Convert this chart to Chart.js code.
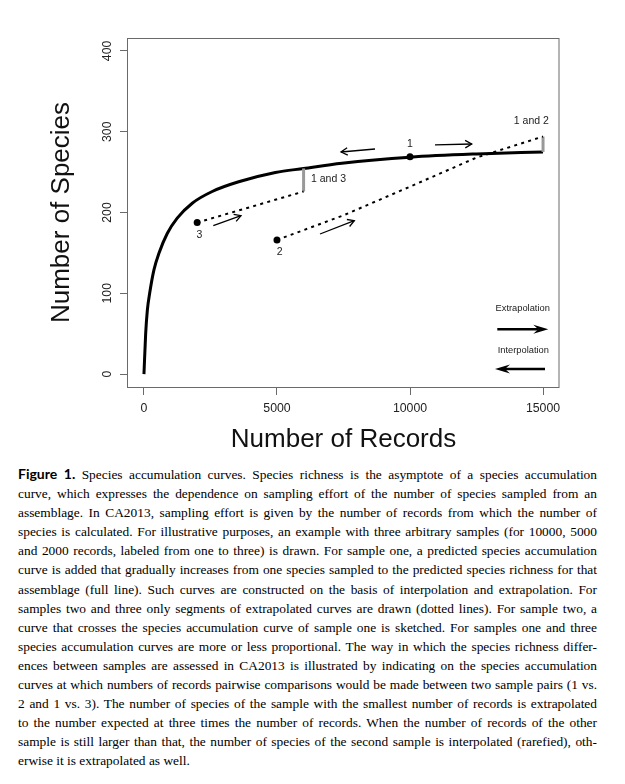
<!DOCTYPE html>
<html><head><meta charset="utf-8">
<script src="https://cdn.jsdelivr.net/npm/chart.js@4"></script>
<style>
html,body{margin:0;padding:0;background:#fff;}
#wrap{position:relative;width:625px;height:784px;overflow:hidden;background:#fff;}
#c{position:absolute;left:0;top:0;}
#cap{position:absolute;left:18px;top:464px;width:579px;font-family:"Liberation Serif",serif;font-size:13.4px;line-height:19.1px;color:#000;}
#cap div{white-space:nowrap;text-align:justify;text-align-last:justify;}
#cap div.last{text-align-last:left;}
#cap b{font-family:Lato,"Open Sans",sans-serif;font-weight:700;font-size:14px;}
</style></head>
<body><div id="wrap"><canvas id="c" width="625" height="460"></canvas>
<div id="cap">
<div><b>Figure 1.</b> Species accumulation curves. Species richness is the asymptote of a species accumulation</div>
<div>curve, which expresses the dependence on sampling effort of the number of species sampled from an</div>
<div>assemblage. In CA2013, sampling effort is given by the number of records from which the number of</div>
<div>species is calculated. For illustrative purposes, an example with three arbitrary samples (for 10000, 5000</div>
<div>and 2000 records, labeled from one to three) is drawn. For sample one, a predicted species accumulation</div>
<div>curve is added that gradually increases from one species sampled to the predicted species richness for that</div>
<div>assemblage (full line). Such curves are constructed on the basis of interpolation and extrapolation. For</div>
<div>samples two and three only segments of extrapolated curves are drawn (dotted lines). For sample two, a</div>
<div>curve that crosses the species accumulation curve of sample one is sketched. For samples one and three</div>
<div>species accumulation curves are more or less proportional. The way in which the species richness differ-</div>
<div>ences between samples are assessed in CA2013 is illustrated by indicating on the species accumulation</div>
<div>curves at which numbers of records pairwise comparisons would be made between two sample pairs (1 vs.</div>
<div>2 and 1 vs. 3). The number of species of the sample with the smallest number of records is extrapolated</div>
<div>to the number expected at three times the number of records. When the number of records of the other</div>
<div>sample is still larger than that, the number of species of the second sample is interpolated (rarefied), oth-</div>
<div class="last">erwise it is extrapolated as well.</div>
</div>
</div>
<script>
// ---- data ----
const xTicks = [0, 5000, 10000, 15000];
const yTicks = [0, 100, 200, 300, 400];
const mainX = [0, 64, 127, 214, 375, 563, 875, 1250, 1815, 2565, 3560, 4939, 6000, 7440, 10000, 12500, 15000];
const mainY = [0, 50, 79, 100, 129, 149.5, 174, 193, 211.5, 226, 238, 249.5, 254.5, 261, 268.5, 272.5, 275];
const sampleX = [10000, 5000, 2000];
const sampleY = [269, 166, 187.5];
const sampleLabels = ['1', '2', '3'];
const ext2X = [5000, 7500, 10000, 12500, 15000];
const ext2Y = [166, 196.5, 232, 268, 294];
const ext3X = [2000, 6000];
const ext3Y = [187.5, 226];
const cmpLabels = ['1 and 3', '1 and 2'];
const cmpX = [6000, 15000];
const cmpLow = [226, 275];
const cmpHigh = [254.5, 294];

const zip = (xs, ys) => xs.map((x, i) => ({x: x, y: ys[i]}));

// annotation config (data coordinates)
const textNotes = [
  {t: sampleLabels[0], x: 10000, y: 285, size: 10.5, align: 'center'},
  {t: sampleLabels[1], x: 5100, y: 151.5, size: 10.5, align: 'center'},
  {t: sampleLabels[2], x: 2080, y: 172, size: 10.5, align: 'center'},
  {t: cmpLabels[0], x: 6278, y: 241.1, size: 10.5, align: 'left'},
  {t: cmpLabels[1], x: 14559, y: 313.3, size: 10.5, align: 'center'},
  {t: 'Extrapolation', x: 14236, y: 81.4, size: 9.3, align: 'center'},
  {t: 'Interpolation', x: 14258, y: 29.8, size: 9.3, align: 'center'}
];
const arrowNotes = [
  {from: [8684, 278.6], to: [7406, 274.9], filled: false},
  {from: [10939, 283.6], to: [12319, 284.8], filled: false},
  {from: [6617, 173.4], to: [7906, 189.9], filled: false},
  {from: [2606, 183.7], to: [3647, 196], filled: false},
  {from: [13281, 55.4], to: [15198, 55.4], filled: true},
  {from: [15074, 6.3], to: [13194, 6.3], filled: true}
];

const TXT = '#222';
const BOX = '#6a6a6a';

const boxPlugin = {
  id: 'boxPlugin',
  beforeDraw(chart) {
    const c = chart.ctx;
    c.save(); c.fillStyle = '#fff'; c.fillRect(0, 0, chart.width, chart.height); c.restore();
  },
  afterDraw(chart) {
    const {ctx, chartArea: a, scales} = chart;
    const sx = scales.x, sy = scales.y;
    ctx.save();
    ctx.strokeStyle = BOX; ctx.lineWidth = 1;
    ctx.strokeRect(a.left - 0.5, a.top + 0.5, a.right - a.left + 0.5, a.bottom - a.top);
    ctx.restore();
    // arrows
    arrowNotes.forEach(ar => {
      const x0 = sx.getPixelForValue(ar.from[0]), y0 = sy.getPixelForValue(ar.from[1]);
      const x1 = sx.getPixelForValue(ar.to[0]), y1 = sy.getPixelForValue(ar.to[1]);
      const ang = Math.atan2(y1 - y0, x1 - x0);
      ctx.save();
      ctx.strokeStyle = '#000'; ctx.fillStyle = '#000';
      if (!ar.filled) {
        ctx.lineWidth = 1.3;
        ctx.beginPath(); ctx.moveTo(x0, y0); ctx.lineTo(x1, y1); ctx.stroke();
        const L = 7.5, th = Math.PI / 6;
        ctx.beginPath();
        ctx.moveTo(x1 - L * Math.cos(ang - th), y1 - L * Math.sin(ang - th));
        ctx.lineTo(x1, y1);
        ctx.lineTo(x1 - L * Math.cos(ang + th), y1 - L * Math.sin(ang + th));
        ctx.stroke();
      } else {
        const L = 15, W = 4.5, N = 10;
        ctx.lineWidth = 2.4;
        ctx.beginPath(); ctx.moveTo(x0, y0);
        ctx.lineTo(x1 - N * Math.cos(ang), y1 - N * Math.sin(ang)); ctx.stroke();
        const px = -Math.sin(ang), py = Math.cos(ang);
        const bx = x1 - L * Math.cos(ang), by = y1 - L * Math.sin(ang);
        const nx = x1 - N * Math.cos(ang), ny = y1 - N * Math.sin(ang);
        ctx.beginPath();
        ctx.moveTo(x1, y1);
        ctx.lineTo(bx + px * W, by + py * W);
        ctx.lineTo(nx, ny);
        ctx.lineTo(bx - px * W, by - py * W);
        ctx.closePath(); ctx.fill();
      }
      ctx.restore();
    });
    // text notes
    textNotes.forEach(n => {
      ctx.save();
      ctx.fillStyle = TXT;
      ctx.font = n.size + 'px "Liberation Sans", Arial, sans-serif';
      ctx.textAlign = n.align; ctx.textBaseline = 'middle';
      ctx.fillText(n.t, sx.getPixelForValue(n.x), sy.getPixelForValue(n.y));
      ctx.restore();
    });
  }
};

const lineDs = (data, opts) => Object.assign({
  data: data, showLine: true, pointRadius: 0, borderColor: '#000', backgroundColor: '#000',
  borderWidth: 2, fill: false, tension: 0
}, opts);

new Chart(document.getElementById('c'), {
  type: 'scatter',
  data: {
    datasets: [
      lineDs(zip(ext3X, ext3Y), {borderDash: [3, 4.3], borderWidth: 2}),
      lineDs(zip(ext2X, ext2Y), {borderDash: [3, 4.3], borderWidth: 2}),
      lineDs(zip([cmpX[0], cmpX[0]], [cmpLow[0], cmpHigh[0]]), {borderColor: '#999', borderWidth: 3}),
      lineDs(zip([cmpX[1], cmpX[1]], [cmpLow[1], cmpHigh[1]]), {borderColor: '#999', borderWidth: 3}),
      lineDs(zip(mainX, mainY), {borderWidth: 3, cubicInterpolationMode: 'monotone'}),
      {data: zip(sampleX, sampleY), showLine: false, pointRadius: 3.5, pointBackgroundColor: '#000', pointBorderWidth: 0, borderColor: '#000'}
    ]
  },
  options: {
    responsive: false, animation: false, devicePixelRatio: 1,
    layout: {padding: {top: 38, right: 66, left: 0, bottom: 0}},
    plugins: {legend: {display: false}, tooltip: {enabled: false}},
    scales: {
      x: {
        type: 'linear', min: -600, max: 15600,
        afterBuildTicks: s => { s.ticks = xTicks.map(v => ({value: v})); },
        afterFit: s => { s.height = 73; },
        grid: {drawOnChartArea: false, drawTicks: true, tickLength: 8, color: BOX, lineWidth: 1},
        border: {display: false},
        ticks: {color: TXT, font: {family: '"Liberation Sans", Arial, sans-serif', size: 12.3}, padding: 6, maxRotation: 0, autoSkip: false, callback: v => String(v)},
        title: {display: true, text: 'Number of Records', color: '#111', font: {family: '"Liberation Sans", Arial, sans-serif', size: 26}, padding: {top: 0, bottom: 4.4}}
      },
      y: {
        type: 'linear', min: -16, max: 416,
        afterBuildTicks: s => { s.ticks = yTicks.map(v => ({value: v})); },
        afterFit: s => { s.width = 128; },
        grid: {drawOnChartArea: false, drawTicks: true, tickLength: 8, color: BOX, lineWidth: 1},
        border: {display: false},
        ticks: {color: TXT, font: {family: '"Liberation Sans", Arial, sans-serif', size: 12.3}, padding: 2, minRotation: 90, maxRotation: 90, crossAlign: 'center', autoSkip: false, callback: v => String(v)},
        title: {display: true, text: 'Number of Species', color: '#111', font: {family: '"Liberation Sans", Arial, sans-serif', size: 26}, padding: {top: 46.4, bottom: 0}}
      }
    }
  },
  plugins: [boxPlugin]
});
</script>
</body></html>
